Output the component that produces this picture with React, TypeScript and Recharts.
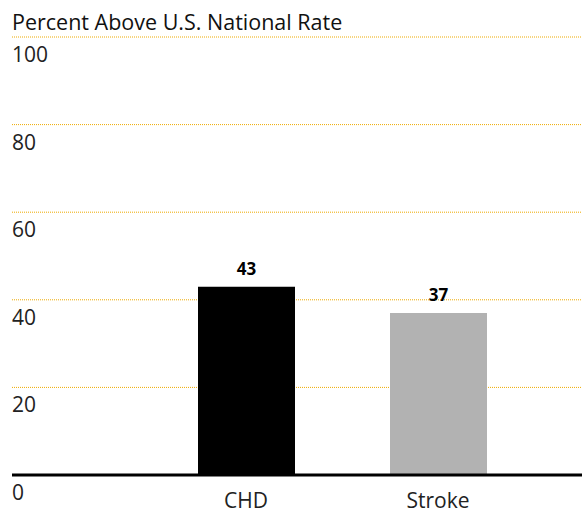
import { BarChart, Bar, XAxis, YAxis, CartesianGrid, LabelList, Cell } from "recharts";

const categories = ["CHD", "Stroke"];
const percentAbove = [43, 37];
const yTicks = [0, 20, 40, 60, 80, 100];
const barColors = ["#000000", "#b2b2b2"];

const data = categories.map((name, i) => ({ name, value: percentAbove[i] }));

const FONT = "'Open Sans', 'Noto Sans', sans-serif";

const YTick = ({ y, payload }: any) => (
  <text x={12} y={y + 17} dominantBaseline="central" textAnchor="start" fontSize={21} fill="#222" fontFamily={FONT}>
    {payload.value}
  </text>
);

const XTick = ({ x, y, payload }: any) => (
  <text x={x} y={y + 25} dominantBaseline="central" textAnchor="middle" fontSize={21} fill="#222" fontFamily={FONT}>
    {payload.value}
  </text>
);

export default function App() {
  return (
    <div style={{ position: "absolute", left: 0, top: 0, width: 582, height: 514, background: "#fff" }}>
      <div
        style={{
          position: "absolute",
          left: 12,
          top: 11,
          fontSize: 21.5,
          lineHeight: "22px",
          fontFamily: FONT,
          color: "#111",
          whiteSpace: "nowrap",
        }}
      >
        Percent Above U.S. National Rate
      </div>
      <BarChart width={582} height={514} data={data} margin={{ top: 37, right: 0, left: 0, bottom: 0 }}>
        <CartesianGrid horizontal vertical={false} stroke="#eeaa00" strokeDasharray="1 1" />
        <XAxis
          dataKey="name"
          height={39}
          padding={{ left: 138, right: 48 }}
          axisLine={{ stroke: "#000", strokeWidth: 3 }}
          tickLine={false}
          tickSize={0}
          tickMargin={0}
          tick={<XTick />}
        />
        <YAxis
          width={12}
          domain={[0, 100]}
          ticks={yTicks}
          axisLine={false}
          tickLine={false}
          tickSize={0}
          tick={<YTick />}
        />
        <Bar dataKey="value" barSize={97} isAnimationActive={false}>
          {data.map((_, i) => (
            <Cell key={i} fill={barColors[i]} />
          ))}
          <LabelList dataKey="value" position="top" offset={12} fontSize={17} fontWeight="bold" fill="#000" fontFamily={FONT} />
        </Bar>
      </BarChart>
    </div>
  );
}
